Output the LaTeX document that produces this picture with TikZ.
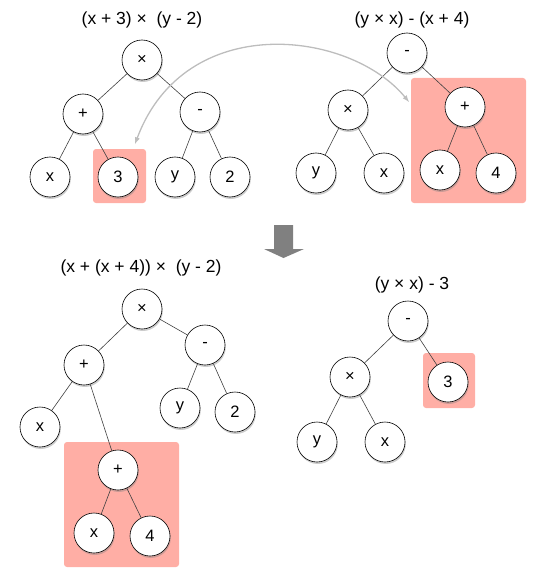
\documentclass[tikz,border=0pt]{standalone}
\usepackage{fontspec}
\setmainfont{Liberation Sans}
\usetikzlibrary{shadows}
\definecolor{hlred}{HTML}{FFAEA5}
\definecolor{swapgray}{HTML}{BDBDBD}
\definecolor{downgray}{HTML}{808080}

\begin{document}
\begin{tikzpicture}[x=1pt, y=-1pt, semithick,
        main/.style = {draw, circle, fill=white, minimum size=40pt, inner sep=0pt,
            font=\fontsize{16.5}{18}\selectfont,
            drop shadow={shadow xshift=0.8pt, shadow yshift=-2pt, opacity=0.4}},
        title/.style = {font=\fontsize{17.5}{19}\selectfont},
        hl/.style = {fill=hlred, rounded corners=3pt},
        link/.style = {draw=black!75, line width=0.6pt}]
    \useasboundingbox (0,0) rectangle (542,575);

    % highlighted subtrees
    \fill[hl] (93,149) rectangle (146,203);
    \fill[hl] (411,78) rectangle (526,203);
    \fill[hl] (64,442) rectangle (179,567);
    \fill[hl] (423,353) rectangle (475,408);

    % top left: (x + 3) x (y - 2)
    \node[title] (t1) at (142,20) {(x + 3) ×\ \ (y - 2)};
    \node[main] (a1) at (142,60) {×};
    \node[main] (a2) at (83,114) {+};
    \node[main] (a3) at (200,112) {-};
    \node[main] (a4) at (50,177) {x};
    \node[main] (a5) at (118,177) {3};
    \node[main] (a6) at (175,177) {y};
    \node[main] (a7) at (230,177) {2};
    \path[link] (a1) edge (a2) edge (a3);
    \path[link] (a2) edge (a4) edge (a5);
    \path[link] (a3) edge (a6) edge (a7);

    % top right: (y x x) - (x + 4)
    \node[title] (t2) at (412,20) {(y × x) - (x + 4)};
    \node[main] (b1) at (407,53) {-};
    \node[main] (b2) at (348,110) {×};
    \node[main] (b3) at (465,107) {+};
    \node[main] (b4) at (316,173) {y};
    \node[main] (b5) at (384,173) {x};
    \node[main] (b6) at (440,170) {x};
    \node[main] (b7) at (496,173) {4};
    \path[link] (b1) edge (b2) edge (b3);
    \path[link] (b2) edge (b4) edge (b5);
    \path[link] (b3) edge (b6) edge (b7);

    % swap arrow
    \coordinate (s1) at (135,144);
    \coordinate (s2) at (409,102);
    \draw[latex-latex, swapgray, line width=1.3pt]
        (s1) .. controls (185,10) and (350,30) .. (s2);

    % big down arrow
    \fill[downgray] (274,225) -- (293,225) -- (293,249) -- (304,249)
        -- (283.5,258) -- (264,249) -- (274,249) -- cycle;

    % bottom left: (x + (x + 4)) x (y - 2)
    \node[title] (t3) at (141,268) {(x + (x + 4)) ×\ \ (y - 2)};
    \node[main] (c1) at (142,309) {×};
    \node[main] (c2) at (84,365) {+};
    \node[main] (c3) at (205,345) {-};
    \node[main] (c4) at (40,427) {x};
    \node[main] (c5) at (180,408) {y};
    \node[main] (c6) at (235,412) {2};
    \node[main] (c7) at (118,470) {+};
    \node[main] (c8) at (94,533) {x};
    \node[main] (c9) at (150,536) {4};
    \path[link] (c1) edge (c2) edge (c3);
    \path[link] (c2) edge (c4) edge (c7);
    \path[link] (c3) edge (c5) edge (c6);
    \path[link] (c7) edge (c8) edge (c9);

    % bottom right: (y x x) - 3
    \node[title] (t4) at (412,285) {(y × x) - 3};
    \node[main] (d1) at (408,321) {-};
    \node[main] (d2) at (350,377) {×};
    \node[main] (d3) at (448,382) {3};
    \node[main] (d4) at (317,442) {y};
    \node[main] (d5) at (385,442) {x};
    \path[link] (d1) edge (d2) edge (d3);
    \path[link] (d2) edge (d4) edge (d5);
\end{tikzpicture}
\end{document}
